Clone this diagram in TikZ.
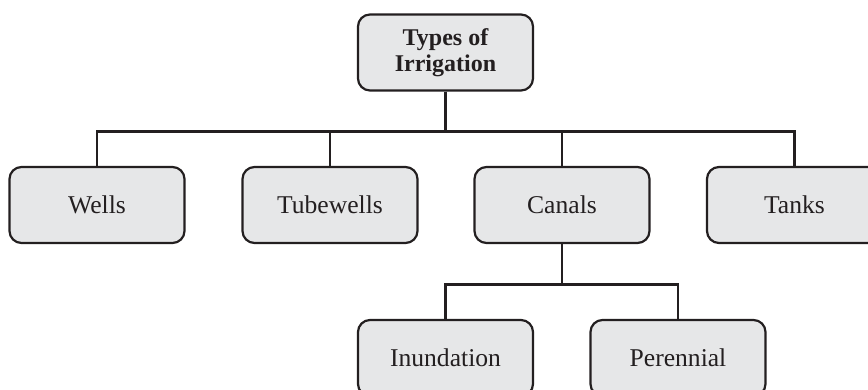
\documentclass[tikz,border=0pt]{standalone}
\usepackage{fontspec}
\setmainfont{Liberation Serif}

\definecolor{boxfill}{HTML}{E6E7E8}
\definecolor{boxline}{HTML}{231F20}

\begin{document}
\begin{tikzpicture}[x=0.5pt, y=-0.5pt,
  box/.style={draw=boxline, fill=boxfill, line width=1.1pt, rounded corners=6pt,
              minimum width=87.5pt, minimum height=38pt, inner sep=0pt,
              align=center, text=boxline, font=\fontsize{12.8}{13}\selectfont},
  link/.style={draw=boxline, line width=1.4pt}]
\clip (0,0) rectangle (868,390);

\node[box, font=\fontsize{12}{13}\selectfont\bfseries] (root) at (445.5,52.5) {Types of\\Irrigation};

\node[box] (wells)     at (97,205)    {Wells};
\node[box] (tubewells) at (330,205)   {Tubewells};
\node[box] (canals)    at (562,205)   {Canals};
\node[box] (tanks)     at (794.5,205) {Tanks};

\node[box] (inundation) at (445.5,358) {Inundation};
\node[box] (perennial)  at (678,358)   {Perennial};

% first level
\draw[link] (root.south) -- ++(0,40) -| (wells.north);
\draw[link] (root.south) -- ++(0,40) -| (tubewells.north);
\draw[link] (root.south) -- ++(0,40) -| (canals.north);
\draw[link] (root.south) -- ++(0,40) -| (tanks.north);

% canals split
\draw[link] (canals.south) -- ++(0,40) -| (inundation.north);
\draw[link] (canals.south) -- ++(0,40) -| (perennial.north);
\end{tikzpicture}
\end{document}
